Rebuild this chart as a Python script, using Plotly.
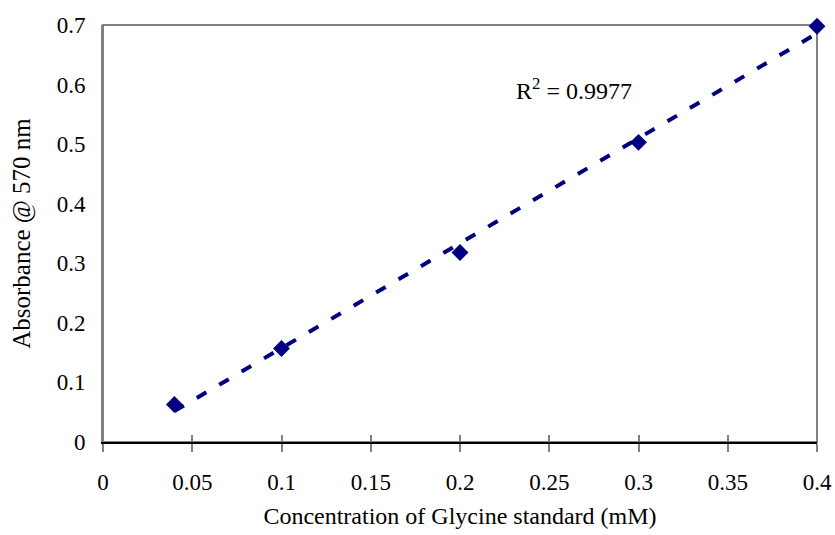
import numpy as np
import plotly.graph_objects as go

conc = [0.04, 0.1, 0.2, 0.3, 0.4]
absorb = [0.063, 0.157, 0.318, 0.503, 0.698]
x_ticks = [0, 0.05, 0.1, 0.15, 0.2, 0.25, 0.3, 0.35, 0.4]
x_tick_labels = ["0", "0.05", "0.1", "0.15", "0.2", "0.25", "0.3", "0.35", "0.4"]
y_ticks = [0, 0.1, 0.2, 0.3, 0.4, 0.5, 0.6, 0.7]
y_tick_labels = ["0", "0.1", "0.2", "0.3", "0.4", "0.5", "0.6", "0.7"]
r2_text = "R<sup>2</sup> = 0.9977"

slope, intercept = np.polyfit(conc, absorb, 1)
fit_x = [min(conc), max(conc)]
fit_y = [slope * v + intercept for v in fit_x]

NAVY = "#000080"
FONT = "Liberation Serif"

fig = go.Figure()
fig.add_trace(go.Scatter(x=fit_x, y=fit_y, mode="lines",
                         line=dict(color=NAVY, width=4, dash="11px,15px"),
                         cliponaxis=False, hoverinfo="skip", showlegend=False))
fig.add_trace(go.Scatter(x=conc, y=absorb, mode="markers",
                         marker=dict(symbol="diamond", size=13, color=NAVY),
                         cliponaxis=False, showlegend=False))
# invisible trace on overlay axis for inside ticks
fig.add_trace(go.Scatter(x=conc, y=absorb, mode="markers", xaxis="x2",
                         marker=dict(opacity=0), hoverinfo="skip", showlegend=False))

fig.add_annotation(x=0.230, y=0.592, xref="x", yref="y", text=r2_text,
                   showarrow=False, xanchor="left", yanchor="middle",
                   font=dict(family=FONT, size=24, color="black"))

fig.update_layout(
    width=835, height=535,
    margin=dict(l=103, r=18, t=25, b=93),
    paper_bgcolor="white", plot_bgcolor="white",
    font=dict(family=FONT, size=23, color="black"),
    xaxis=dict(range=[0, 0.4], tickvals=x_ticks, ticktext=x_tick_labels,
               showgrid=False, zeroline=False, automargin=False,
               showline=True, linecolor="black", linewidth=2,
               ticks="outside", ticklen=8, tickcolor="#808080", tickwidth=2,
               ticklabelstandoff=10,
               title=dict(text="Concentration of Glycine standard (mM)",
                          font=dict(family=FONT, size=24), standoff=14),
               tickfont=dict(family=FONT, size=23)),
    xaxis2=dict(range=[0, 0.4], overlaying="x", matches="x", tickvals=x_ticks,
                showticklabels=False, showgrid=False, zeroline=False,
                automargin=False,
                ticks="inside", ticklen=7, tickcolor="#808080", tickwidth=2,
                side="bottom", showline=False),
    yaxis=dict(range=[0, 0.7], tickvals=y_ticks, ticktext=y_tick_labels,
               showgrid=False, zeroline=False, automargin=False,
               showline=True, linecolor="#808080", linewidth=2,
               ticks="", ticklabelstandoff=11,
               title=dict(text="Absorbance @ 570 nm",
                          font=dict(family=FONT, size=25), standoff=19),
               tickfont=dict(family=FONT, size=23)),
)
fig.add_shape(type="rect", xref="paper", yref="paper", x0=0, y0=0, x1=1, y1=1,
              line=dict(color="#808080", width=2), layer="below")
fig.write_html("out.html")
